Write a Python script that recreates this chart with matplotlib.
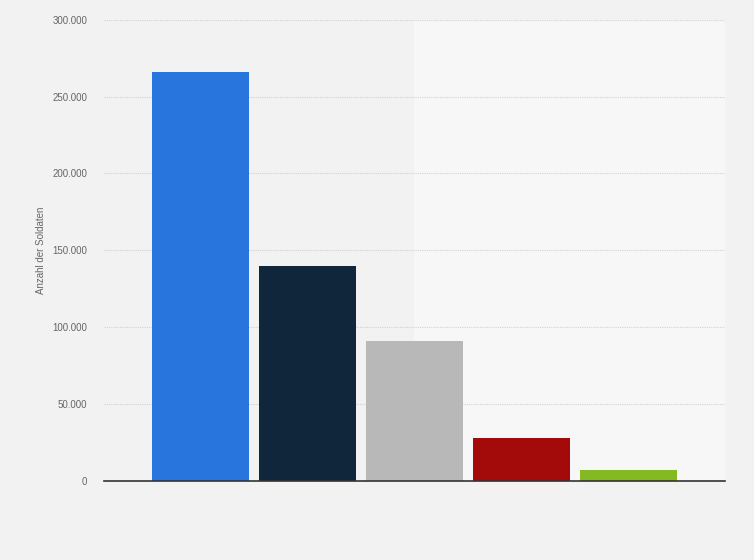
import numpy as np
import matplotlib
matplotlib.use("Agg")
from matplotlib import pyplot as plt
from matplotlib.patches import Rectangle
from matplotlib.ticker import FuncFormatter

# Werte
kategorien = ["A", "B", "C", "D", "E"]
soldaten = [266000, 140000, 91000, 28000, 7000]
farben = ["#2876dd", "#10263b", "#b8b8b8", "#a30b0b", "#85b922"]
y_ticks = [0, 50000, 100000, 150000, 200000, 250000, 300000]

plt.rcParams["font.family"] = ["Liberation Sans", "DejaVu Sans"]

fig = plt.figure(figsize=(7.54, 5.6), dpi=100, facecolor="#f2f2f2")
# hellerer Bereich im Hintergrund
fig.patches.append(Rectangle((414 / 754, 1 - 481 / 560), 311 / 754, 461 / 560,
                             transform=fig.transFigure, facecolor="#f7f7f7",
                             edgecolor="none", zorder=-5))

ax = fig.add_axes([104 / 754, 1 - 481 / 560, 621 / 754, 461.3 / 560])
ax.set_facecolor("none")
ax.set_zorder(2)

x = np.arange(len(kategorien))
ax.bar(x, soldaten, width=0.906, color=farben, zorder=3)

ax.set_xlim(-0.902, len(kategorien) - 1 + 0.902)
ax.set_ylim(0, 300000)
ax.set_yticks(y_ticks)
ax.yaxis.set_major_formatter(FuncFormatter(lambda v, p: f"{int(v):,}".replace(",", ".")))
ax.set_xticks([])

ax.grid(axis="y", color="#d2d2d2", linestyle=(0, (1, 1)), linewidth=0.8, zorder=0)
for s in ["top", "right", "left"]:
    ax.spines[s].set_visible(False)
ax.spines["bottom"].set_color("#333333")
ax.spines["bottom"].set_linewidth(1.2)
ax.spines["bottom"].set_zorder(4)

ax.tick_params(axis="y", length=0, pad=12, labelsize=7, labelcolor="#666666")
ax.set_ylabel("Anzahl der Soldaten", fontsize=7, color="#666666")
ax.yaxis.set_label_coords(-0.093, 0.5)

fig.savefig("out.png", dpi=100, facecolor=fig.get_facecolor())
